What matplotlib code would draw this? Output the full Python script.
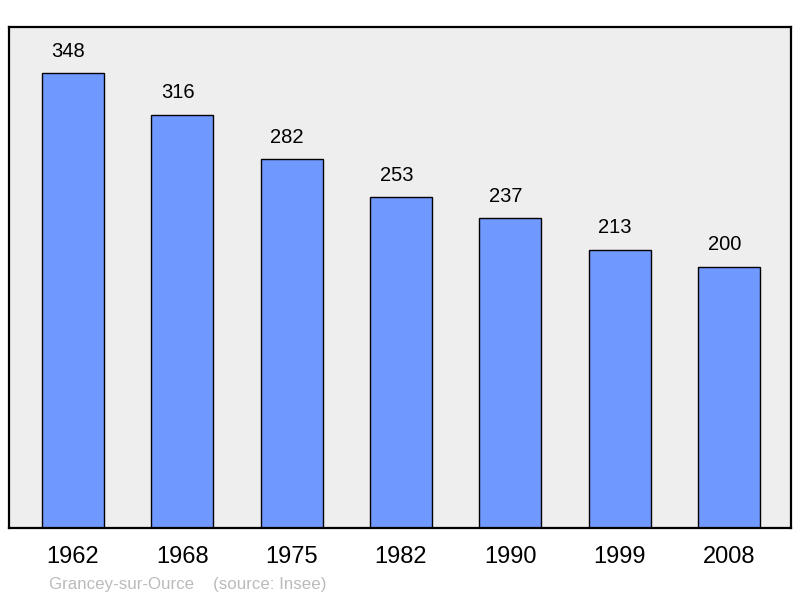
import matplotlib
matplotlib.use("Agg")
import matplotlib.pyplot as plt

years = ["1962", "1968", "1975", "1982", "1990", "1999", "2008"]
population = [348, 316, 282, 253, 237, 213, 200]
commune = "Grancey-sur-Ource"
source = "(source: Insee)"

plt.rcParams['font.family'] = ['Liberation Sans', 'DejaVu Sans']

fig = plt.figure(figsize=(8, 5.98), dpi=100)
ax = fig.add_axes([9/800, 70/598, 782/800, 501/598])
ax.set_facecolor('#EEEEEE')
x = list(range(len(years)))
ax.bar(x, population, width=0.567, color='#7099FF', edgecolor='black', linewidth=1.0, zorder=2)
for xi, v in zip(x, population):
    ax.annotate(str(v), (xi, v), xytext=(-3.3, 9), textcoords='offset points',
                ha='center', va='bottom', fontsize=14.5, color='black')
ax.set_xlim(-0.585, 6.567)
ax.set_ylim(0, 383.2)
ax.set_yticks([])
ax.set_xticks(x)
ax.set_xticklabels(years, fontsize=17)
ax.tick_params(axis='x', length=0, pad=13)
for s in ax.spines.values():
    s.set_linewidth(1.6)
    s.set_color('black')
fig.text(49/800, 1 - 584/598, commune + "    " + source, fontsize=12.2, color='#BBBBBB',
         ha='left', va='center')
fig.savefig("out.png", dpi=100)
